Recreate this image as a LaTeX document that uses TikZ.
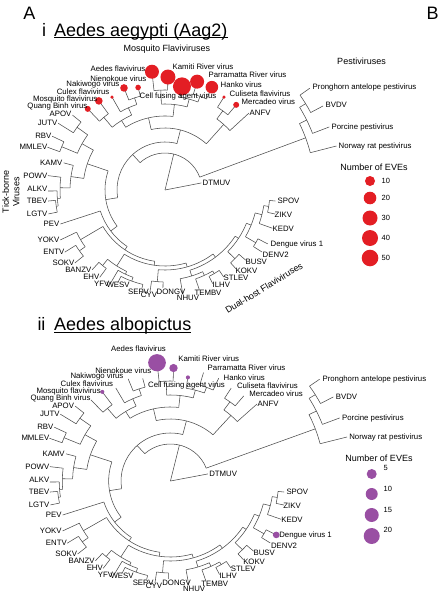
\documentclass[tikz,border=0pt]{standalone}
\usepackage{fontspec}
\setmainfont{Liberation Sans}
\definecolor{everd}{RGB}{227,30,36}
\definecolor{evepurple}{RGB}{153,79,163}

% fan tree, centre at (165,190): inner nodes then tips
\newcommand{\flavibranches}{%
  \begin{scope}[shift={(165,190)}]
    % child angle / child angle / node radius / parent radius
    \foreach \a/\b/\r/\p in {20.35/132.4/37/0, 14.4/26.3/150/37, 21/31.55/158/150, 28/35.1/165/158,
        75.5/189.25/48/37, 48.2/102.9/62/48, 42.5/53.85/88/62, 50.1/57.6/98/88,
        83.75/122/74/62, 75.1/92.4/86/74, 88.5/96.3/100/86, 69.5/80.7/94/86, 65.5/73.5/100/94,
        114/130.1/82/74, 126.6/133.6/95/82, 108.3/119.7/90/82, 104.7/111.9/97/90,
        161.4/217.1/60/48, 150.9/171.9/82/60, 144.5/157.25/95/82, 141/148/108/95, 154.5/160/112/95,
        165/178.75/95/82, 173/184.5/105/95, 180.5/188.5/108/105, 185.4/191.6/110/108,
        198/236.2/68/60, 210.5/261.8/72/68, 205.5/215.4/98/72, 211.8/219/105/98,
        237.6/286/76/72, 230.4/244.8/90/76, 227.6/233.2/98/90, 239.7/249.9/93/90, 243/256.8/97/93,
        265.2/306.9/80/76, 261.6/268.8/92/80, 287.2/326.6/84/80, 279.7/294.8/90/84, 289/300.5/94/90,
        297/304/97/94, 315.5/337.8/88/84, 312/319/98/88, 329.9/345.7/93/88, 327.4/332.3/105/93,
        340.4/351/100/93, 347.7/354.3/105/100}{
      \draw[treeline] (-\a:\r) arc[start angle=-\a, end angle=-\b, radius=\r];
      \draw[treeline] ({-(\a+\b)/2}:\p) -- ({-(\a+\b)/2}:\r);
    }
    % angle / parent radius / tip radius
    \foreach \a/\p/\t in {11/0/37, 14.4/150/177, 21/158/176, 28/165/179, 35.1/165/177,
        42.5/88/114, 50.1/98/111, 57.6/98/110, 65.5/100/113, 73.5/100/113, 80.7/94/105,
        88.5/100/113, 96.3/100/119, 104.7/97/106, 111.9/97/110, 119.7/90/107, 126.6/95/111,
        133.6/95/112, 141/108/119, 148/108/126, 154.5/112/125, 160/112/125, 165/95/105,
        173/105/118, 180.5/108/117, 185.4/110/117.5, 191.6/110/119, 198/68/110, 205.5/98/116,
        211.8/105/118, 219/105/116, 227.6/98/108, 233.2/98/109, 239.7/93/109, 243/97/104,
        256.8/97/101, 261.6/92/103, 268.8/92/98, 279.7/90/106, 289/94/106, 297/97/105,
        304/97/105, 312/98/106, 319/98/107, 327.4/105/115, 332.3/105/116, 340.4/100/114,
        347.7/105/113, 354.3/105/111}
      \draw[treeline] (-\a:\p) -- (-\a:\t);
  \end{scope}}

% bubbles on tips: style, list of angle/tip radius/bubble radius
\newcommand{\evebubbles}[2]{%
  \begin{scope}[shift={(165,190)}]
    \foreach \a/\t/\s in {#2}
      \fill[#1] (-\a:\t) circle[radius=\s];
  \end{scope}}

\newcommand{\flavilabels}{%
  \node[leaflabel, anchor=east] (nienokoue) at (147,80) {Nienokoue virus};
  \node[leaflabel, anchor=east] (nakiwogo) at (120,85) {Nakiwogo virus};
  \node[leaflabel, anchor=east] (culex) at (110,93) {Culex flavivirus};
  \node[leaflabel, anchor=east] (mosquito) at (98,100) {Mosquito flavivirus};
  \node[leaflabel, anchor=east] (quangbinh) at (88,107) {Quang Binh virus};
  \node[leaflabel, anchor=east] (apov) at (72,115) {APOV};
  \node[leaflabel, anchor=east] (jutv) at (58,123) {JUTV};
  \node[leaflabel, anchor=east] (rbv) at (52,136) {RBV};
  \node[leaflabel, anchor=east] (mmlev) at (48,147) {MMLEV};
  \node[leaflabel, anchor=east] (kamv) at (63,163) {KAMV};
  \node[leaflabel, anchor=east] (powv) at (48,176) {POWV};
  \node[leaflabel, anchor=east] (alkv) at (48,189) {ALKV};
  \node[leaflabel, anchor=east] (tbev) at (48,201) {TBEV};
  \node[leaflabel, anchor=east] (lgtv) at (48,214) {LGTV};
  \node[leaflabel, anchor=east] (pev) at (60,224) {PEV};
  \node[leaflabel, anchor=east] (yokv) at (60,240) {YOKV};
  \node[leaflabel, anchor=east] (entv) at (65,252) {ENTV};
  \node[leaflabel, anchor=east] (sokv) at (75,263) {SOKV};
  \node[leaflabel, anchor=east] (banzv) at (92,270) {BANZV};
  \node[leaflabel, anchor=east] (ehv) at (100,277) {EHV};
  \node[leaflabel, anchor=east] (yfv) at (110,284) {YFV};
  \node[leaflabel] (wesv) at (118,285) {WESV};
  \node[leaflabel] (sepv) at (138.5,292) {SEPV};
  \node[leaflabel] (cyv) at (149,295) {CYV};
  \node[leaflabel] (dongv) at (171,292) {DONGV};
  \node[leaflabel] (nhuv) at (188,298) {NHUV};
  \node[leaflabel] (tembv) at (208,293) {TEMBV};
  \node[leaflabel, anchor=west] (ilhv) at (212,285) {ILHV};
  \node[leaflabel, anchor=west] (stlev) at (223,278) {STLEV};
  \node[leaflabel, anchor=west] (kokv) at (235,271) {KOKV};
  \node[leaflabel, anchor=west] (busv) at (245,262) {BUSV};
  \node[leaflabel, anchor=west] (denvtwo) at (262,255) {DENV2};
  \node[leaflabel, anchor=west] (denvone) at (270,244) {Dengue virus 1};
  \node[leaflabel, anchor=west] (kedv) at (272,229) {KEDV};
  \node[leaflabel, anchor=west] (zikv) at (274,215) {ZIKV};
  \node[leaflabel, anchor=west] (spov) at (277,201) {SPOV};
  \node[leaflabel, anchor=west] (dtmuv) at (202,183) {DTMUV};
  \node[leaflabel, anchor=west] (norway) at (338,146) {Norway rat pestivirus};
  \node[leaflabel, anchor=west] (porcine) at (331,127) {Porcine pestivirus};
  \node[leaflabel, anchor=west] (bvdv) at (325,106) {BVDV};
  \node[leaflabel, anchor=west] (pronghorn) at (312,88) {Pronghorn antelope pestivirus};
  \node[leaflabel, anchor=west] (anfv) at (249,113) {ANFV};
  \node[leaflabel, anchor=west] (mercadeo) at (241,103) {Mercadeo virus};
  \node[leaflabel, anchor=west] (culiseta) at (229,95) {Culiseta flavivirus};
  \node[leaflabel, anchor=west] (kamiti) at (172,68) {Kamiti River virus};}

\begin{document}
\begin{tikzpicture}[x=1pt, y=-1pt]
  \tikzstyle{treeline}=[draw=black!70, line width=0.55pt]
  \tikzstyle{leaflabel}=[font=\fontsize{7.8}{9}\selectfont, inner sep=0.5pt, text height=5.6pt, text depth=1.6pt]
  \tikzstyle{cladelabel}=[font=\fontsize{9}{10.5}\selectfont, inner sep=0.5pt]
  \tikzstyle{headlabel}=[font=\fontsize{18}{20}\selectfont, inner sep=0pt]
  \tikzstyle{legnum}=[font=\fontsize{7.5}{9}\selectfont, anchor=west, inner sep=0.5pt]
  \tikzstyle{redeve}=[fill=everd]
  \tikzstyle{purpleeve}=[fill=evepurple]
  \useasboundingbox (0,0) rectangle (442,599);

  \node[headlabel, anchor=base] (panela) at (29.5,20) {A};
  \node[headlabel, anchor=base] (panelb) at (432.5,20) {B};

  % i  Aedes aegypti
  \begin{scope}[name prefix=a-]
    \node[headlabel, anchor=base] (num) at (44,36.7) {i};
    \node[headlabel, anchor=base west] (name) at (54,36.7) {Aedes aegypti (Aag2)};
    \draw[line width=0.8pt] ([yshift=-1.2pt]name.base west) -- ([yshift=-1.2pt]name.base east);
    \flavibranches
    \evebubbles{redeve}{96.3/119/7, 88.5/113/7.5, 80.7/105/9, 73.5/113/7, 65.5/113/6.3,
      57.6/110/1.8, 50.1/111/3, 104.7/106/2.8, 111.9/110/3.8, 119.7/107/1.8, 126.6/111/3.8, 133.6/112/3}
    \flavilabels
    \node[leaflabel, anchor=east] (aedes) at (146,70) {Aedes flavivirus};
    \node[leaflabel] (cfav) at (178,97) {Cell fusing agent virus};
    \node[leaflabel, anchor=west] (parramatta) at (208,76) {Parramatta River virus};
    \node[leaflabel, anchor=west] (hanko) at (220,86) {Hanko virus};
    % clade names
    \node[cladelabel] (mosqclade) at (167,49) {Mosquito Flaviviruses};
    \node[cladelabel] (pesticlade) at (361.5,61) {Pestiviruses};
    \node[cladelabel, rotate=90, align=center] (tickclade) at (11,192) {Tick-borne\\Viruses};
    \node[cladelabel, rotate=31.4] (dualclade) at (264,288) {Dual-host Flaviviruses};
    % legend
    \node[cladelabel] (legtitle) at (374,167) {Number of EVEs};
    \foreach \y/\s/\n in {181/5/10, 198/6.3/20, 218/7.5/30, 238/8/40, 258/8.3/50}{
      \fill[redeve] (370,\y) circle[radius=\s];
      \node[legnum] at (381,\y) {\n};
    }
  \end{scope}

  % ii  Aedes albopictus
  \node[headlabel, anchor=base] (numii) at (41.5,330.7) {ii};
  \node[headlabel, anchor=base west] (nameii) at (54,330.7) {Aedes albopictus};
  \draw[line width=0.8pt] ([yshift=-1.2pt]nameii.base west) -- ([yshift=-1.2pt]nameii.base east);
  \begin{scope}[shift={(0.5,291)}, xscale=1.03, name prefix=b-]
    \flavibranches
    \evebubbles{purpleeve}{96.3/119/8.6, 88.5/113/4.1, 80.7/105/2, 126.6/111/2, 332.3/116/3.3}
    \flavilabels
    \node[leaflabel] (aedes) at (134,58) {Aedes flavivirus};
    \node[leaflabel] (cfav) at (180.6,94) {Cell fusing agent virus};
    \node[leaflabel, anchor=west] (parramatta) at (200.5,77) {Parramatta River virus};
    \node[leaflabel, anchor=west] (hanko) at (216,87) {Hanko virus};
  \end{scope}
  \node[cladelabel] (legtitleii) at (379,458) {Number of EVEs};
  \foreach \y/\s/\n/\ny in {474/5/5/468, 494/6/10/489, 515/7/15/510, 536/8/20/530}{
    \fill[purpleeve] (371.7,\y) circle[radius=\s];
    \node[legnum] at (383,\ny) {\n};
  }
\end{tikzpicture}
\end{document}
